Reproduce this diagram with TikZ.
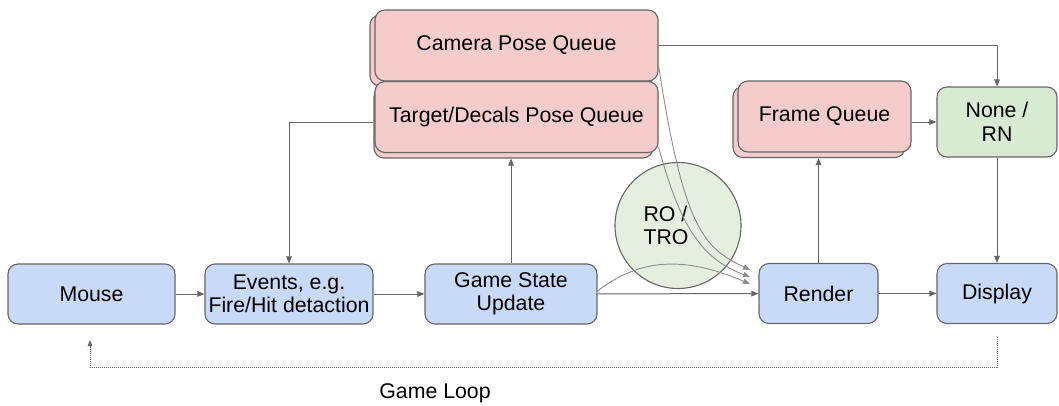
\documentclass[tikz,border=0pt]{standalone}
\usepackage{fontspec}
\setmainfont{Liberation Sans}
\usetikzlibrary{arrows.meta}
\definecolor{blu}{HTML}{C9DAF8}
\definecolor{pnk}{HTML}{F4CCCC}
\definecolor{grn}{HTML}{D9EAD3}
\definecolor{cgrn}{HTML}{E4EFE0}
\definecolor{bord}{HTML}{666666}
\definecolor{lin}{HTML}{666666}
\definecolor{crv}{HTML}{8C8C8C}
\begin{document}
\begin{tikzpicture}[x=1pt,y=-1pt,
  txt/.style={font=\fontsize{21.3}{23.5}\selectfont},
  box/.style={txt, draw=bord, line width=1.1pt, rounded corners=10pt, inner sep=0pt, align=center},
  bluebox/.style={box, fill=blu, minimum height=60pt},
  qbox/.style={box, fill=pnk, minimum height=71pt},
  conn/.style={draw=lin, line width=1pt, -{Triangle[length=7pt,width=5.5pt]}},
  curv/.style={draw=crv, line width=0.9pt, -{Triangle[length=7pt,width=5.5pt]}},
  loopline/.style={draw=lin, line width=0.8pt, dash pattern=on 0.8pt off 1.2pt, -{Triangle[length=6pt,width=4.5pt]}},
]
\useasboundingbox (0,0) rectangle (1059,405);
\fill[white] (0,0) rectangle (1059,405);

% main row
\node[bluebox, minimum width=167pt] (mouse) at (91.5,294) {Mouse};
\node[bluebox, minimum width=168pt] (events) at (289,294) {Events, e.g.\\Fire/Hit detaction};
\node[bluebox, minimum width=172pt] (gsu) at (511,294) {Game State\\Update};
\node[bluebox, minimum width=119pt] (render) at (818.5,293.5) {Render};
\node[bluebox, minimum width=120pt] (display) at (997,293.5) {Display};

% green box
\node[box, fill=grn, minimum width=120pt, minimum height=70pt] (none) at (997,122) {None /\\RN};

% queues (stacked)
\node[qbox, minimum width=283pt] (camback) at (511.5,50.5) {};
\node[qbox, minimum width=283pt] (camera) at (516.5,45.5) {Camera Pose Queue};
\node[qbox, minimum width=279pt] (targetback) at (513.5,122.5) {};
\node[qbox, minimum width=283pt] (target) at (516.5,117) {Target/Decals Pose Queue};
\node[qbox, minimum width=172pt] (frameback) at (819,122) {};
\node[qbox, minimum width=173pt] (frame) at (824.5,116.5) {Frame Queue};

% circle
\node[circle, draw=bord, fill=cgrn, line width=1.1pt, minimum size=126pt, inner sep=0pt] (circ) at (678,225.5) {};
\node[txt, align=left, inner sep=0pt] (ro) at (666,225.5) {RO /\\TRO};

% connectors
\draw[conn] (mouse) -- (events);
\draw[conn] (events) -- (gsu);
\draw[conn] (gsu) -- (render);
\draw[conn] (render) -- (display);
\draw[conn] (gsu.north) -- (gsu.north |- targetback.south);
\draw[conn] (targetback.west) -| (events.north);
\draw[conn] (camera.east) -| (none.north);
\draw[conn] (render.north) -- (render.north |- frameback.south);
\draw[conn] (frame.east |- none.west) -- (none.west);
\draw[conn] (none.south) -- (display.north);

% curves through RO/TRO
\coordinate (e1) at (750,270);
\coordinate (e2) at (750,277);
\coordinate (e3) at (750,284);
\draw[curv] (camera.-8) .. controls (684,232) and (705,248) .. (e1);
\draw[curv] (target.-12) .. controls (680,225) and (700,258) .. (e2);
\draw[curv] ([yshift=3pt]gsu.east) .. controls (640,258) and (685,256) .. (e3);

% game loop
\coordinate (lr) at (997,337);
\coordinate (ll) at (90,340);
\draw[loopline] (lr) -- (lr |- 0,367) -- (ll |- 0,367) -- (ll);
\node[txt] (gl) at (435,393) {Game Loop};
\end{tikzpicture}
\end{document}
